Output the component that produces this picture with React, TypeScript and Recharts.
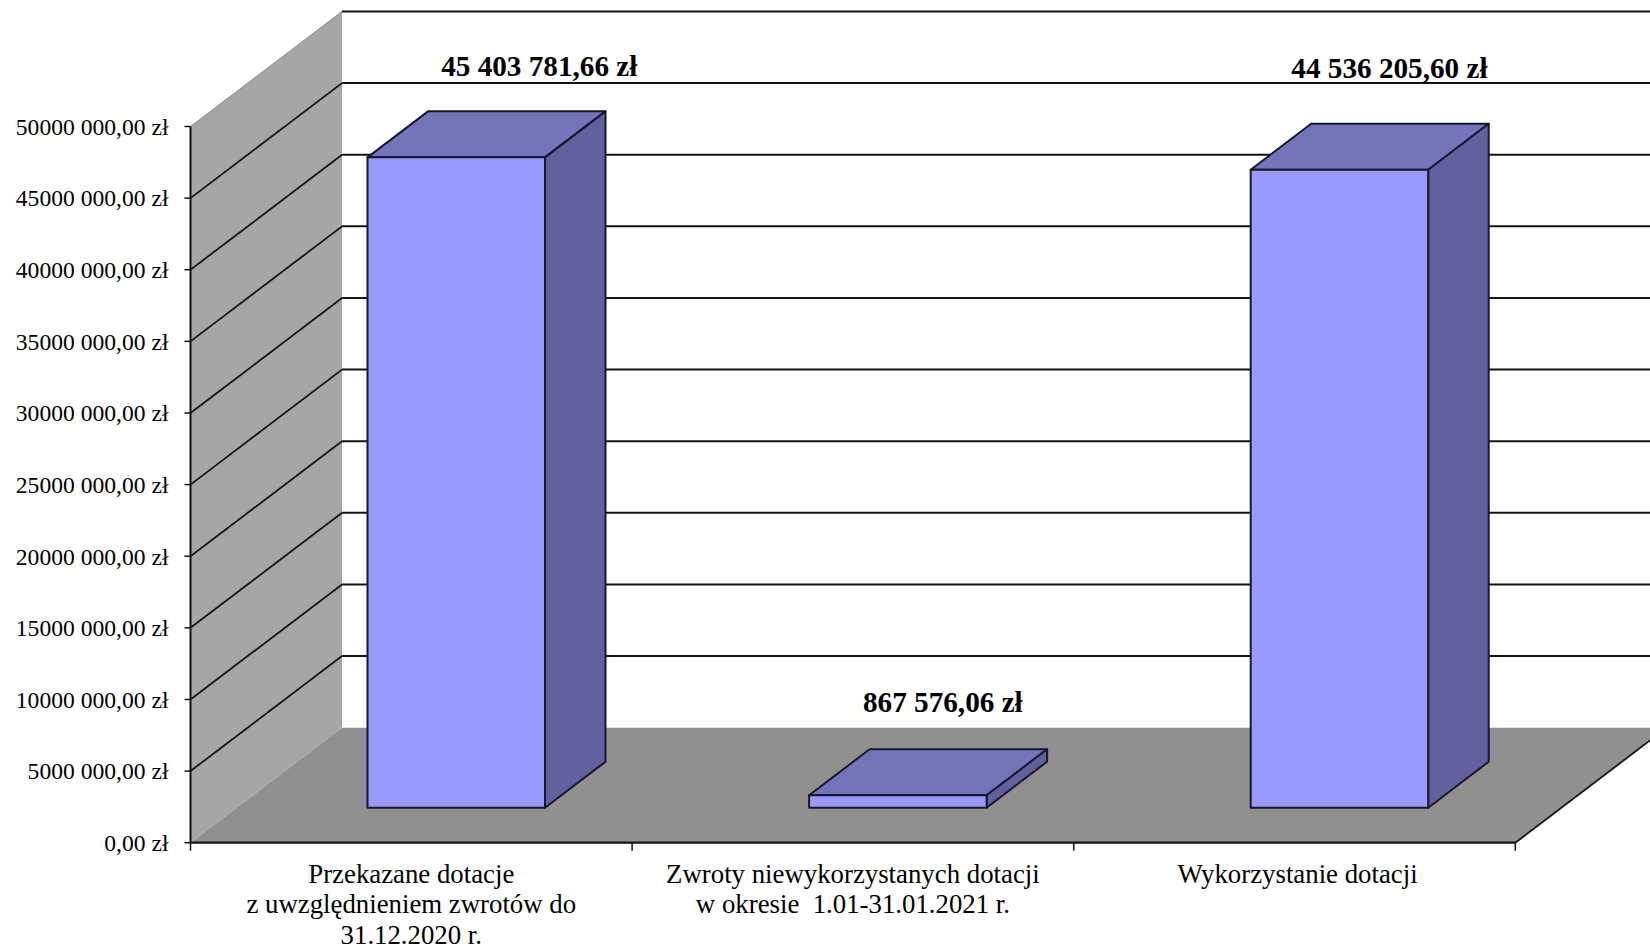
import { BarChart, Bar, XAxis, YAxis, CartesianGrid, ReferenceArea, LabelList } from 'recharts'

const categories = ['Przekazane dotacje', 'Zwroty niewykorzystanych dotacji', 'Wykorzystanie dotacji']
const categoryLines = [
  ['Przekazane dotacje', 'z uwzględnieniem zwrotów do', '31.12.2020 r.'],
  ['Zwroty niewykorzystanych dotacji', 'w okresie  1.01-31.01.2021 r.'],
  ['Wykorzystanie dotacji'],
]
const amounts = [45403781.66, 867576.06, 44536205.6]
const yTicks = [0, 5000000, 10000000, 15000000, 20000000, 25000000, 30000000, 35000000, 40000000, 45000000, 50000000]

const chartData = categories.map((name, i) => ({ name, amount: amounts[i] }))

const WIDTH = 1650
const HEIGHT = 949
const FONT = '"Liberation Serif", "Times New Roman", serif'
const INK = '#141414'

// the 3d look: how far back the walls and the boxes reach, in px
const WALL_DX = 151.5
const WALL_DY = 115
const BOX_DX = 60.5
const BOX_DY = 46
const BOX_SHIFT_X = 45
const BOX_SHIFT_Y = 35

// the value labels were placed by hand in the original
const labelNudge = [
  { x: 83, y: -123.5 },
  { x: 45, y: -124.5 },
  { x: 50, y: -133.5 },
]
const categoryShift = [0, 0, 3]

function formatAxis(v: number) {
  if (v === 0) return '0,00 zł'
  const s = String(v)
  return `${s.slice(0, -3)} ${s.slice(-3)},00 zł`
}

function formatAmount(v: number) {
  const [whole, cents] = v.toFixed(2).split('.')
  return `${whole.replace(/\B(?=(\d{3})+$)/g, ' ')},${cents} zł`
}

function Walls(props: any) {
  const { x, y, width, height } = props
  const bottom = y + height
  const right = x + width
  return (
    <g>
      <polygon
        points={`${x},${bottom} ${x + WALL_DX},${bottom - WALL_DY} ${x + WALL_DX},${y - WALL_DY} ${x},${y}`}
        fill="#a6a6a6"
      />
      <polygon
        points={`${x},${bottom} ${right},${bottom} ${right + WALL_DX},${bottom - WALL_DY} ${x + WALL_DX},${bottom - WALL_DY}`}
        fill="#909090"
      />
      <line x1={right} y1={bottom} x2={right + WALL_DX} y2={bottom - WALL_DY} stroke={INK} strokeWidth={1.8} />
    </g>
  )
}

function GridLine(props: any) {
  const { x1, y1, index } = props
  if (index === 0) return <g />
  const isTop = index === yTicks.length - 1
  return (
    <g>
      <line
        x1={x1}
        y1={y1}
        x2={x1 + WALL_DX}
        y2={y1 - WALL_DY}
        stroke={isTop ? '#8c8c8c' : INK}
        strokeWidth={isTop ? 1 : 1.8}
      />
      <line x1={x1 + WALL_DX} y1={y1 - WALL_DY} x2={WIDTH} y2={y1 - WALL_DY} stroke={INK} strokeWidth={2} />
    </g>
  )
}

function Box(props: any) {
  const { x, y, width, height } = props
  const l = x + BOX_SHIFT_X
  const r = l + width
  const t = y - BOX_SHIFT_Y
  const b = t + height
  return (
    <g stroke="#17172e" strokeWidth={2} strokeLinejoin="round">
      <polygon points={`${l},${t} ${r},${t} ${r + BOX_DX},${t - BOX_DY} ${l + BOX_DX},${t - BOX_DY}`} fill="#7474bb" />
      <polygon points={`${r},${t} ${r + BOX_DX},${t - BOX_DY} ${r + BOX_DX},${b - BOX_DY} ${r},${b}`} fill="#6161a0" />
      <rect x={l} y={t} width={width} height={height} fill="#9999ff" />
    </g>
  )
}

function AmountLabel(props: any) {
  const { x, y, width, value, index } = props
  const nudge = labelNudge[index]
  return (
    <text
      x={x + width / 2 + nudge.x + BOX_SHIFT_X}
      y={y + nudge.y}
      textAnchor="middle"
      dominantBaseline="middle"
      fontFamily={FONT}
      fontSize={29.2}
      fontWeight="bold"
      fill="#000"
    >
      {formatAmount(value)}
    </text>
  )
}

function CategoryTick(props: any) {
  const { x, y, width, index } = props
  const band = width / categories.length
  const lines = categoryLines[index] ?? []
  return (
    <g>
      <line x1={x - band / 2} y1={y - 8} x2={x - band / 2} y2={y} stroke={INK} strokeWidth={1.5} />
      {index === categories.length - 1 && (
        <line x1={x + band / 2} y1={y - 8} x2={x + band / 2} y2={y} stroke={INK} strokeWidth={1.5} />
      )}
      {lines.map((line: string, i: number) => (
        <text
          key={line}
          x={x + categoryShift[index]}
          y={y + 26 + i * 30.5}
          textAnchor="middle"
          dominantBaseline="middle"
          fontFamily={FONT}
          fontSize={26.8}
          fill="#000"
          style={{ whiteSpace: 'pre' }}
        >
          {line}
        </text>
      ))}
    </g>
  )
}

export default function App() {
  return (
    <div style={{ position: 'absolute', left: 0, top: 0, width: WIDTH, height: HEIGHT, background: '#fff' }}>
      <BarChart
        width={WIDTH}
        height={HEIGHT}
        data={chartData}
        margin={{ top: 126.5, right: 134.7, bottom: 0, left: 0 }}
        barSize={177.5}
      >
        <ReferenceArea y1={0} y2={50000000} shape={<Walls />} ifOverflow="visible" zIndex={-200} />
        <CartesianGrid horizontal={GridLine} vertical={false} />
        <XAxis
          dataKey="name"
          axisLine={{ stroke: INK, strokeWidth: 2.2 }}
          tickLine={false}
          height={106.3}
          interval={0}
          tick={<CategoryTick />}
        />
        <YAxis
          width={190.5}
          domain={[0, 50000000]}
          ticks={yTicks}
          interval={0}
          tickFormatter={formatAxis}
          axisLine={{ stroke: INK, strokeWidth: 2 }}
          tickLine={{ stroke: INK, strokeWidth: 1.5 }}
          tickSize={6}
          tickMargin={16}
          tick={{ fill: '#000', fontFamily: FONT, fontSize: 23.6 }}
        />
        <Bar dataKey="amount" shape={<Box />} isAnimationActive={false}>
          <LabelList dataKey="amount" content={<AmountLabel />} />
        </Bar>
      </BarChart>
    </div>
  )
}
